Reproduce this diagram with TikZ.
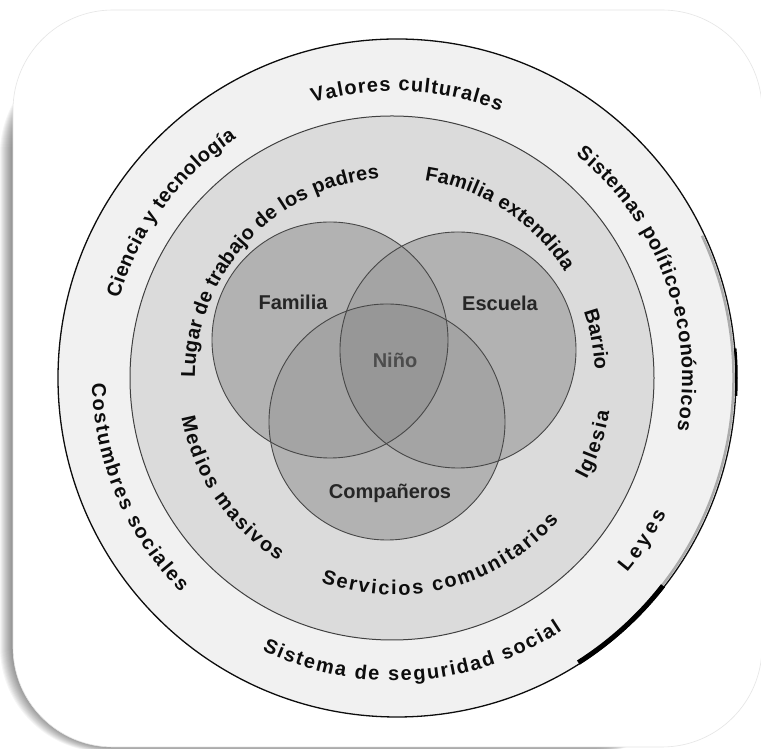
\documentclass[tikz,border=0pt]{standalone}
\usepackage{fontspec}
\setmainfont{Liberation Sans}
\usetikzlibrary{decorations.text}
\definecolor{outerring}{gray}{0.945}
\definecolor{innerdisk}{gray}{0.86}
\definecolor{venn}{gray}{0.76}
\definecolor{ink}{gray}{0.05}
\definecolor{vennline}{gray}{0.28}
\tikzset{
  ringtext/.style={decorate, decoration={text along path, text color=ink,
      text={|\fontsize{20}{24}\selectfont\bfseries|#1}, text align=fit to path}},
  vennlabel/.style={font=\fontsize{20}{24}\selectfont\bfseries, text=black!85, inner sep=0pt},
  venncircle/.style={draw=vennline, line width=0.9},
}
\begin{document}
\begin{tikzpicture}[x=1pt,y=1pt]
\useasboundingbox (0,0) rectangle (761,749);
\clip (0,0) rectangle (761,749);
\fill[white] (0,0) rectangle (761,749);
% shadow of the card (left and bottom only)
\foreach \k in {0,...,12} {
  \fill[black, fill opacity=0.04, rounded corners=105]
    (\k, -3+0.4*\k) rectangle (700, 700);
}
\fill[white, rounded corners=100] (13,2) rectangle (762,739);
\draw[black!10, line width=0.6, rounded corners=100] (13,2) rectangle (762,739);
% centres
\coordinate (C) at (395,371);
\coordinate (Co) at (397,371);
\coordinate (Cm) at (392,371);
% outer circle
\fill[outerring] (Co) circle[radius=339];
\draw[gray!65, line width=2.5] ([shift={(25:336.5)}]Co) arc[start angle=25, end angle=-57, radius=336.5];
\draw[ink, line width=1.3] (Co) circle[radius=339];
\draw[black, line width=2.5] ([shift={(5:339.5)}]Co) arc[start angle=5, end angle=-3, radius=339.5];
\draw[black, line width=5] ([shift={(-57.5:337.5)}]Co) arc[start angle=-57.5, end angle=-38, radius=337.5];
% middle disk
\fill[innerdisk] (Cm) circle[radius=262];
\draw[black!75, line width=1] (Cm) circle[radius=262];
% Venn circles
\coordinate (F) at (330,409);
\coordinate (E) at (458,399);
\coordinate (P) at (387,327);
\foreach \c in {F,E,P} \fill[venn] (\c) circle[radius=118];
\foreach \c in {F,E,P} \fill[black, fill opacity=0.08] (\c) circle[radius=118];
\foreach \c in {F,E,P} \draw[venncircle] (\c) circle[radius=118];
% Venn labels
\node[vennlabel] (familia) at (293,447) {Familia};
\node[vennlabel] (escuela) at (500,446) {Escuela};
\node[vennlabel, text=black!70] (nino) at (395,389) {Niño};
\node[vennlabel] (companeros) at (390,256) {Compañeros};
% outer ring texts
\path[ringtext={Valores culturales}] ([shift={(106.6:287)}]C) arc[start angle=106.6, end angle=68.5, radius=287];
\path[ringtext={Sistemas político-económicos}] ([shift={(51:287)}]C) arc[start angle=51, end angle=-10.5, radius=287];
\path[ringtext={Ciencia y tecnología}] ([shift={(164:287)}]C) arc[start angle=164, end angle=123.5, radius=287];
\path[ringtext={Costumbres sociales}] ([shift={(181:303)}]C) arc[start angle=181, end angle=225, radius=303];
\path[ringtext={Sistema de seguridad social}] ([shift={(244:303)}]C) arc[start angle=244, end angle=303.5, radius=303];
\path[ringtext={Leyes}] ([shift={(320:303)}]C) arc[start angle=320, end angle=333.5, radius=303];
% middle ring texts
\path[ringtext={Lugar de trabajo de los padres}] ([shift={(180:200)}]C) arc[start angle=180, end angle=94.5, radius=200];
\path[ringtext={Familia extendida}] ([shift={(81.5:200)}]C) arc[start angle=81.5, end angle=32, radius=200];
\path[ringtext={Barrio}] ([shift={(19.3:200)}]C) arc[start angle=19.3, end angle=2.3, radius=200];
\path[ringtext={Iglesia}] ([shift={(332:217)}]C) arc[start angle=332, end angle=351, radius=217];
\path[ringtext={Servicios comunitarios}] ([shift={(250:217)}]C) arc[start angle=250, end angle=319, radius=217];
\path[ringtext={Medios masivos}] ([shift={(190.5:217)}]C) arc[start angle=190.5, end angle=237.5, radius=217];
\end{tikzpicture}
\end{document}
